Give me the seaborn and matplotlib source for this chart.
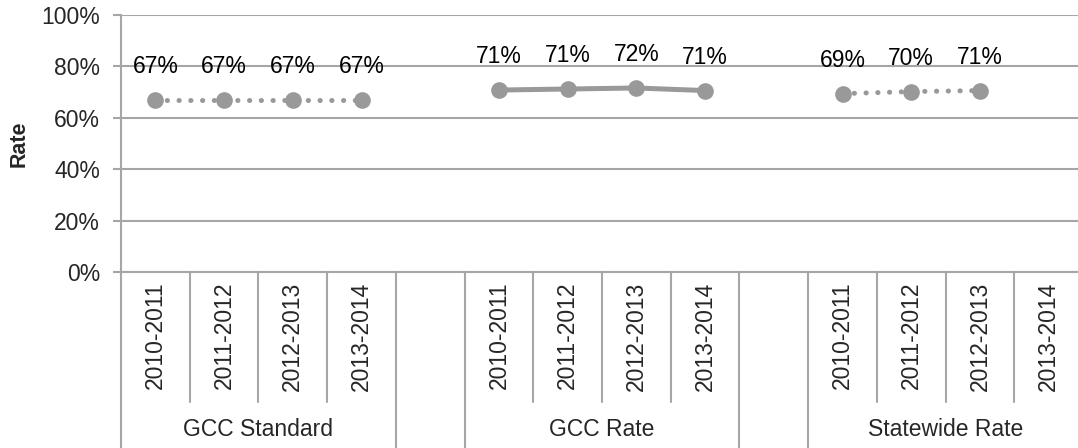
import matplotlib
matplotlib.use('Agg')
import matplotlib.pyplot as plt
import numpy as np
import pandas as pd
import seaborn as sns

# chart data
groups = ['GCC Standard', 'GCC Rate', 'Statewide Rate']
years = ['2010-2011', '2011-2012', '2012-2013', '2013-2014']
gcc_standard = [67.0, 67.0, 67.0, 67.0]
gcc_rate = [70.8, 71.2, 71.6, 70.6]
statewide_rate = [69.4, 70.2, 70.6, np.nan]
y_ticks = [0, 20, 40, 60, 80, 100]

LINE_GREY = '#999999'
GRID_GREY = '#a6a6a6'

sns.set_style('white')
plt.rcParams['font.family'] = ['Liberation Sans', 'DejaVu Sans']

fig = plt.figure(figsize=(10.78, 4.48), dpi=100)
ax = fig.add_axes([121 / 1078, 176 / 448, 962 / 1078, 257 / 448])

# each group takes 4 slots, followed by one empty slot
slot = 0
rows = []
for name, vals in zip(groups, [gcc_standard, gcc_rate, statewide_rate]):
    for yr, v in zip(years, vals):
        rows.append({'group': name, 'year': yr, 'pos': slot, 'rate': v})
        slot += 1
    slot += 1
df = pd.DataFrame(rows)

styles = {'GCC Standard': (0, (0.05, 2.3)),
          'GCC Rate': '-',
          'Statewide Rate': (0, (0.05, 2.3))}

for name in groups:
    sub = df[df['group'] == name].dropna()
    sns.lineplot(data=sub, x='pos', y='rate', ax=ax, color=LINE_GREY,
                 linestyle=styles[name], lw=3.6, dash_capstyle='round',
                 marker='o', markersize=12, markeredgewidth=0,
                 markerfacecolor=LINE_GREY, legend=False)
    for _, r in sub.iterrows():
        ax.annotate('{:.0f}%'.format(r['rate']), (r['pos'], r['rate']),
                    xytext=(0, 24), textcoords='offset points',
                    ha='center', va='center', fontsize=16.5, color='black')

ax.set_xlim(-0.5, 13.5)
ax.set_ylim(0, 100)
ax.set_yticks(y_ticks)
ax.set_yticklabels(['{}%'.format(t) for t in y_ticks], fontsize=16.5)
ax.yaxis.grid(True, color=GRID_GREY, lw=1.5)
ax.set_axisbelow(True)
ax.tick_params(axis='y', length=6, width=1.5, color=GRID_GREY, pad=9,
               left=True)

# category axis
ax.set_xticks(df['pos'])
ax.set_xticklabels(df['year'], rotation=90, fontsize=16.5, va='top',
                   ha='center')
ax.tick_params(axis='x', length=0, pad=7)
ax.set_xlabel('')

for side in ['top', 'right']:
    ax.spines[side].set_visible(False)
for side in ['left', 'bottom']:
    ax.spines[side].set_color(GRID_GREY)
    ax.spines[side].set_linewidth(1.5)

# divider lines below the axis
trans = ax.get_xaxis_transform()
short_end = -130 / 257
long_end = -180 / 257
for b in np.arange(-0.5, 13.6, 1.0):
    full = b in (-0.5, 3.5, 4.5, 8.5, 9.5)
    ax.plot([b, b], [0, long_end if full else short_end], transform=trans,
            color=GRID_GREY, lw=1.5, clip_on=False)

for i, name in enumerate(groups):
    ax.text(i * 5 + 1.5, -158 / 257, name, transform=trans, ha='center',
            va='center', fontsize=16.5)

ax.set_ylabel('Rate', fontsize=15.5, fontweight='bold')
ax.yaxis.set_label_coords(-91 / 962, 0.5)

fig.savefig('out.png', dpi=100)
